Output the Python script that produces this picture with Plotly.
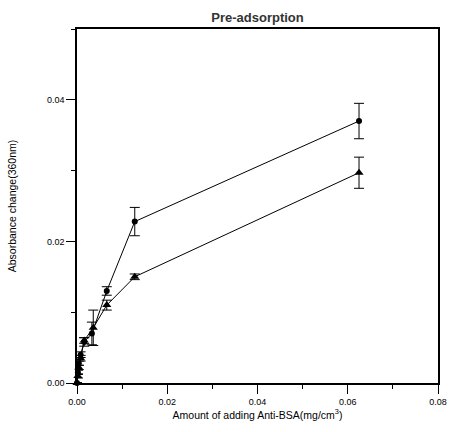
import plotly.graph_objects as go

# Data
amount = [0, 0.0002, 0.0004, 0.0008, 0.0016, 0.0033, 0.0066, 0.0128, 0.0625]
series1 = [0, 0.0015, 0.0028, 0.0040, 0.0058, 0.0070, 0.0130, 0.0228, 0.0370]
series1_err = [0, 0.0003, 0.0003, 0.0004, 0.0006, 0.0016, 0.0006, 0.0020, 0.0025]
amount2 = [0, 0.0002, 0.0004, 0.0008, 0.0016, 0.0036, 0.0066, 0.0128, 0.0625]
series2 = [0, 0.0010, 0.0022, 0.0035, 0.0060, 0.0078, 0.0110, 0.0150, 0.0297]
series2_err = [0, 0.0003, 0.0003, 0.0004, 0.0004, 0.0025, 0.0007, 0.0004, 0.0022]

x_ticks = [0, 0.02, 0.04, 0.06, 0.08]
x_tick_labels = ["0.00", "0.02", "0.04", "0.06", "0.08"]
y_ticks = [0, 0.02, 0.04]
y_tick_labels = ["0.00", "0.02", "0.04"]

fig = go.Figure()
fig.add_trace(go.Scatter(
    x=amount, y=series1, mode="lines+markers",
    line=dict(color="black", width=1),
    marker=dict(symbol="circle", size=6, color="black"),
    error_y=dict(type="data", array=series1_err, color="black", thickness=1, width=5),
    cliponaxis=False, showlegend=False,
))
fig.add_trace(go.Scatter(
    x=amount2, y=series2, mode="lines+markers",
    line=dict(color="black", width=1),
    marker=dict(symbol="triangle-up", size=8, color="black"),
    error_y=dict(type="data", array=series2_err, color="black", thickness=1, width=5),
    cliponaxis=False, showlegend=False,
))

axis_common = dict(
    showline=True, linecolor="black", linewidth=1.5, mirror=True,
    ticks="outside", ticklen=9, tickwidth=1.2, tickcolor="black",
    showgrid=False, zeroline=False,
    tickfont=dict(family="Liberation Sans", size=9, color="black"),
)

fig.update_layout(
    width=459, height=432,
    margin=dict(l=74, r=15, t=29, b=49),
    paper_bgcolor="white", plot_bgcolor="white",
    title=dict(text="<b>Pre-adsorption</b>", x=0.5, xanchor="center", xref="paper",
               y=1 - 17 / 432, yanchor="middle",
               font=dict(family="Liberation Sans", size=13, color="#333333")),
    xaxis=dict(range=[0, 0.08], tickvals=x_ticks, ticktext=x_tick_labels,
               minor=dict(ticks="outside", ticklen=4, tickcolor="black", dtick=0.01, tick0=0),
               title=dict(text="Amount of adding Anti-BSA(mg/cm<sup>3</sup>)",
                          font=dict(family="Liberation Sans", size=10.5, color="black"),
                          standoff=6),
               **axis_common),
    yaxis=dict(range=[0, 0.05], tickvals=y_ticks, ticktext=y_tick_labels,
               minor=dict(ticks="outside", ticklen=4, tickcolor="black", dtick=0.01, tick0=0),
               title=dict(text="Absorbance change(360nm)",
                          font=dict(family="Liberation Sans", size=10.5, color="black"),
                          standoff=28),
               **axis_common),
)

fig.write_html("out.html")
